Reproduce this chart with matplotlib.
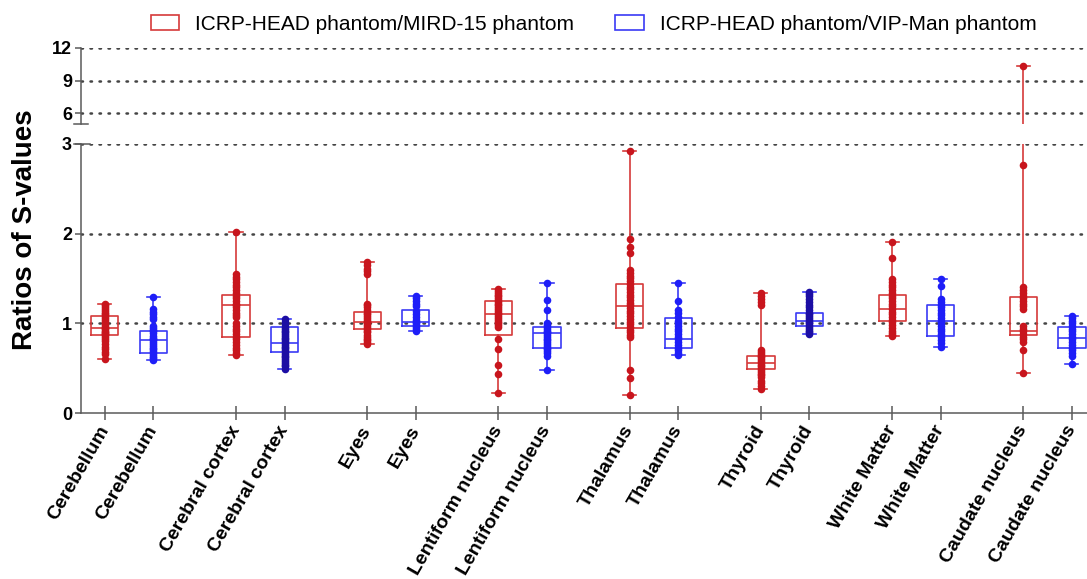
"""Box plots of S-value ratios for the ICRP-HEAD phantom versus MIRD-15 and VIP-Man."""

import matplotlib

matplotlib.use("Agg")

import matplotlib.pyplot as plt
from matplotlib.patches import Patch

plt.rcParams["font.family"] = ["Liberation Sans", "DejaVu Sans"]

ORGANS = ["Cerebellum", "Cerebral cortex", "Eyes", "Lentiform nucleus",
          "Thalamus", "Thyroid", "White Matter", "Caudate nucleus"]

# box statistics (min, q1, median, q3, max) per organ
MIRD_MIN = [0.60, 0.65, 0.77, 0.22, 0.20, 0.27, 0.855, 0.45]
MIRD_Q1 = [0.87, 0.85, 0.94, 0.87, 0.95, 0.49, 1.03, 0.87]
MIRD_MED = [0.95, 1.20, 1.01, 1.10, 1.19, 0.56, 1.16, 0.915]
MIRD_Q3 = [1.08, 1.32, 1.13, 1.25, 1.44, 0.64, 1.32, 1.29]
MIRD_MAX = [1.22, 2.02, 1.68, 1.38, 2.92, 1.335, 1.91, 10.37]

VIP_MIN = [0.59, 0.49, 0.92, 0.48, 0.65, 0.88, 0.74, 0.55]
VIP_Q1 = [0.67, 0.68, 0.97, 0.72, 0.72, 0.97, 0.86, 0.73]
VIP_MED = [0.81, 0.78, 1.02, 0.89, 0.83, 1.03, 1.03, 0.84]
VIP_Q3 = [0.92, 0.955, 1.145, 0.96, 1.06, 1.115, 1.20, 0.955]
VIP_MAX = [1.29, 1.05, 1.30, 1.45, 1.45, 1.35, 1.49, 1.085]

MIRD_POINTS = [
    [1.22, 1.20, 1.18, 1.16, 1.14, 1.12, 1.10, 1.08, 1.06, 1.04, 1.02, 1.00, 0.98, 0.96, 0.95,
     0.94, 0.92, 0.90, 0.89, 0.88, 0.87, 0.85, 0.83, 0.80, 0.77, 0.74, 0.71, 0.68, 0.66, 0.60],
    [2.02, 1.55, 1.52, 1.49, 1.46, 1.43, 1.40, 1.37, 1.34, 1.31, 1.28, 1.25, 1.22, 1.20, 1.18,
     1.15, 1.12, 1.09, 1.07, 1.00, 0.97, 0.94, 0.91, 0.88, 0.85, 0.82, 0.79, 0.76, 0.73, 0.70,
     0.67, 0.65],
    [1.68, 1.65, 1.61, 1.58, 1.55, 1.22, 1.20, 1.18, 1.15, 1.12, 1.10, 1.08, 1.06, 1.04, 1.02,
     1.01, 1.00, 0.98, 0.96, 0.94, 0.92, 0.90, 0.87, 0.85, 0.83, 0.81, 0.79, 0.77],
    [1.38, 1.36, 1.34, 1.32, 1.30, 1.28, 1.26, 1.24, 1.22, 1.20, 1.18, 1.16, 1.14, 1.12, 1.10,
     1.08, 1.06, 1.04, 1.02, 1.00, 0.98, 0.96, 0.83, 0.71, 0.53, 0.44, 0.22],
    [2.92, 1.94, 1.85, 1.78, 1.59, 1.56, 1.53, 1.50, 1.47, 1.44, 1.41, 1.38, 1.35, 1.32, 1.29,
     1.26, 1.23, 1.20, 1.17, 1.14, 1.11, 1.08, 1.05, 1.02, 0.99, 0.96, 0.93, 0.90, 0.87, 0.85,
     0.48, 0.39, 0.20],
    [1.335, 1.30, 1.27, 1.24, 1.21, 0.70, 0.68, 0.66, 0.64, 0.62, 0.60, 0.58, 0.56, 0.54, 0.52,
     0.50, 0.48, 0.46, 0.44, 0.42, 0.40, 0.36, 0.33, 0.30, 0.27],
    [1.91, 1.73, 1.49, 1.46, 1.43, 1.40, 1.37, 1.34, 1.31, 1.28, 1.25, 1.22, 1.19, 1.16, 1.13,
     1.10, 1.07, 1.04, 1.01, 0.98, 0.95, 0.92, 0.89, 0.87, 0.855],
    [10.37, 2.77, 1.40, 1.37, 1.34, 1.31, 1.28, 1.25, 1.22, 1.19, 1.16, 0.97, 0.94, 0.91, 0.88,
     0.85, 0.82, 0.79, 0.70, 0.45],
]

VIP_POINTS = [
    [1.29, 1.16, 1.13, 1.10, 1.07, 1.05, 0.97, 0.95, 0.93, 0.91, 0.89, 0.86, 0.84, 0.82, 0.81,
     0.79, 0.77, 0.75, 0.73, 0.71, 0.69, 0.67, 0.65, 0.63, 0.61, 0.59],
    [1.05, 1.02, 0.99, 0.96, 0.94, 0.92, 0.90, 0.88, 0.86, 0.84, 0.82, 0.80, 0.78, 0.76, 0.74,
     0.72, 0.70, 0.68, 0.66, 0.64, 0.62, 0.60, 0.58, 0.56, 0.54, 0.52, 0.49],
    [1.30, 1.28, 1.25, 1.22, 1.19, 1.14, 1.10, 1.07, 1.04, 1.02, 1.00, 0.98, 0.96, 0.94, 0.92],
    [1.45, 1.26, 1.15, 1.00, 0.98, 0.96, 0.94, 0.92, 0.90, 0.89, 0.87, 0.85, 0.83, 0.81, 0.79,
     0.77, 0.75, 0.73, 0.71, 0.69, 0.67, 0.64, 0.48],
    [1.45, 1.25, 1.15, 1.11, 1.07, 1.03, 1.00, 0.97, 0.94, 0.91, 0.88, 0.85, 0.82, 0.79, 0.76,
     0.73, 0.70, 0.67, 0.65],
    [1.35, 1.33, 1.30, 1.27, 1.24, 1.21, 1.18, 1.15, 1.12, 1.10, 1.08, 1.06, 1.04, 1.02, 1.00,
     0.98, 0.96, 0.94, 0.92, 0.90, 0.88],
    [1.49, 1.42, 1.27, 1.24, 1.21, 1.18, 1.15, 1.12, 1.09, 1.06, 1.03, 1.00, 0.97, 0.94, 0.91,
     0.88, 0.85, 0.81, 0.78, 0.74],
    [1.085, 1.06, 1.03, 1.00, 0.97, 0.94, 0.91, 0.88, 0.85, 0.82, 0.79, 0.76, 0.73, 0.70, 0.67,
     0.64, 0.55],
]

LEGEND_LABELS = ["ICRP-HEAD phantom/MIRD-15 phantom", "ICRP-HEAD phantom/VIP-Man phantom"]

RED_BOX, RED_DOT = "#d63a3a", "#c8151d"
BLUE_BOX, BLUE_DOT = "#3a3af5", "#1e1ef8"
NAVY_DOT = "#1c0ea4"
AXIS_GREY = "#5a5a5a"
GRID_GREY = "#444444"

GROUP_STEP = 2.7
red_pos = [GROUP_STEP * i for i in range(len(ORGANS))]
blue_pos = [p + 1 for p in red_pos]


def make_stats(lo, q1, med, q3, hi):
    return [dict(whislo=a, q1=b, med=c, q3=d, whishi=e)
            for a, b, c, d, e in zip(lo, q1, med, q3, hi)]


def draw_groups(ax):
    for stats, pos, box_c, points, dots in (
        (make_stats(MIRD_MIN, MIRD_Q1, MIRD_MED, MIRD_Q3, MIRD_MAX), red_pos, RED_BOX,
         MIRD_POINTS, [RED_DOT] * 8),
        (make_stats(VIP_MIN, VIP_Q1, VIP_MED, VIP_Q3, VIP_MAX), blue_pos, BLUE_BOX,
         VIP_POINTS, [BLUE_DOT, NAVY_DOT, BLUE_DOT, BLUE_DOT, BLUE_DOT, NAVY_DOT, BLUE_DOT, BLUE_DOT]),
    ):
        line = dict(color=box_c, linewidth=1.2)
        ax.bxp(stats, positions=pos, widths=0.56, capwidths=0.27, showfliers=False,
               boxprops=line, whiskerprops=line, capprops=line, medianprops=line,
               manage_ticks=False)
        for x, vals, c in zip(pos, points, dots):
            ax.scatter([x] * len(vals), vals, s=30, color=c, zorder=3, linewidths=0)


def add_grid(ax, levels):
    for y in levels:
        ax.axhline(y, color=GRID_GREY, linewidth=1.8, linestyle=(0, (0.6, 3.0)),
                   dash_capstyle="round", zorder=0)


fig = plt.figure(figsize=(10.87, 5.79), dpi=100)
ax_low = fig.add_axes([0.0745, 0.2867, 0.9255, 0.4646])
ax_up = fig.add_axes([0.0745, 0.7858, 0.9255, 0.1313])

xlim = (-0.49, red_pos[-1] + 1 + 0.31)

for ax in (ax_low, ax_up):
    draw_groups(ax)
    ax.set_xlim(*xlim)
    ax.spines["top"].set_visible(False)
    ax.spines["right"].set_visible(False)
    for s in ("left", "bottom"):
        ax.spines[s].set_color(AXIS_GREY)
        ax.spines[s].set_linewidth(1.1)
    ax.tick_params(axis="y", direction="out", length=4.5, width=1.1, color=AXIS_GREY,
                   labelsize=13, pad=2)

ax_low.set_ylim(0, 3)
ax_low.set_yticks([0, 1, 2, 3])
ax_low.set_yticklabels(["0", "1", "2", "3"], fontweight="bold")
add_grid(ax_low, [1, 2, 3])

ax_up.set_ylim(5, 12)
ax_up.set_yticks([6, 9, 12])
ax_up.set_yticklabels(["6", "9", "12"], fontweight="bold")
ax_up.spines["bottom"].set_visible(False)
ax_up.tick_params(axis="x", bottom=False, labelbottom=False)
add_grid(ax_up, [6, 9, 12])

# break caps on the y axis
ax_up.plot([-0.007, 0.007], [5, 5], transform=ax_up.get_yaxis_transform(),
           color=AXIS_GREY, linewidth=1.1, clip_on=False)
ax_low.plot([-0.007, 0.009], [3, 3], transform=ax_low.get_yaxis_transform(),
            color=AXIS_GREY, linewidth=1.1, clip_on=False)

tick_pos = [p for pair in zip(red_pos, blue_pos) for p in pair]
tick_lab = [o for o in ORGANS for _ in range(2)]
ax_low.set_xticks(tick_pos)
ax_low.set_xticklabels(tick_lab, rotation=60, ha="right", va="center",
                       rotation_mode="anchor", fontsize=14, fontweight="bold")
ax_low.tick_params(axis="x", direction="inout", length=10, width=1.1, color=AXIS_GREY, pad=5)

fig.text(0.023, 0.603, "Ratios of S-values", rotation=90, ha="center", va="center",
         fontsize=20, fontweight="bold")

handles = [Patch(facecolor="white", edgecolor=RED_BOX, linewidth=1.2),
           Patch(facecolor="white", edgecolor=BLUE_BOX, linewidth=1.2)]
fig.legend(handles, LEGEND_LABELS, loc="center", bbox_to_anchor=(0.546, 0.9585), ncol=2,
           frameon=False, fontsize=15, handlelength=1.35, handleheight=0.7,
           handletextpad=0.77, columnspacing=2.0)

fig.savefig("out.png", dpi=100)
plt.close(fig)
